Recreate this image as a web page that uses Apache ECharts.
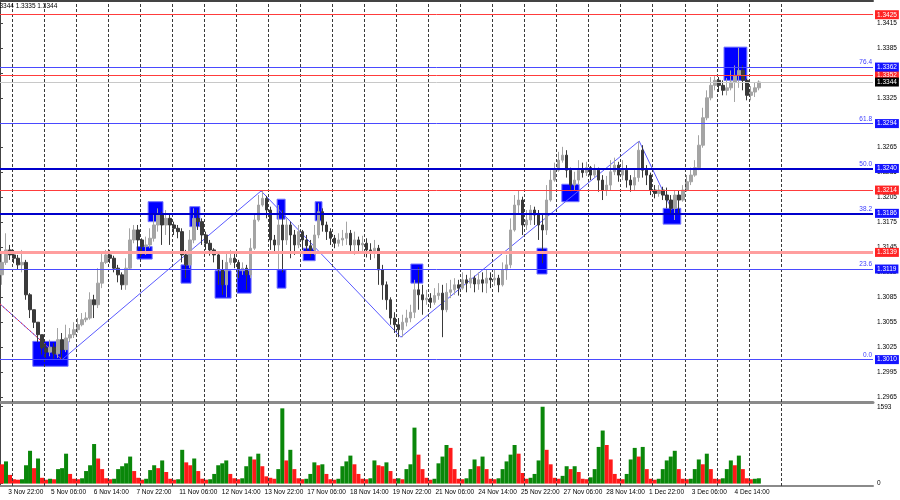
<!DOCTYPE html>
<html><head><meta charset="utf-8">
<script src="https://cdn.jsdelivr.net/npm/echarts@6/dist/echarts.min.js"></script>
<style>html,body{margin:0;padding:0;background:#fff}#c{width:900px;height:500px}</style>
</head><body><div id="c"></div>
<script>
// ---------------- data ----------------
const barCount = 218; // 3-hour slots on the time axis (incl. empty right margin)
// [open, close, low, high]
const ohlc = [
[1.3112,1.3127,1.3100,1.3140],[1.3127,1.3142,1.3124,1.3162],[1.3142,1.3136,1.3130,1.3148],[1.3136,1.3132,1.3126,1.3142],[1.3132,1.3124,1.3118,1.3136],
[1.3124,1.3127,1.3115,1.3142],[1.3127,1.3088,1.3082,1.3130],[1.3088,1.3070,1.3060,1.3090],[1.3070,1.3055,1.3048,1.3070],[1.3055,1.3040,1.3031,1.3055],
[1.3040,1.3024,1.3016,1.3040],[1.3024,1.3019,1.3012,1.3030],[1.3019,1.3025,1.3014,1.3034],[1.3025,1.3017,1.3011,1.3030],[1.3017,1.3034,1.3012,1.3048],
[1.3034,1.3022,1.3010,1.3042],[1.3022,1.3036,1.3019,1.3052],[1.3036,1.3040,1.3031,1.3048],[1.3040,1.3046,1.3036,1.3055],[1.3046,1.3052,1.3042,1.3060],
[1.3052,1.3058,1.3050,1.3066],[1.3058,1.3060,1.3055,1.3067],[1.3060,1.3082,1.3058,1.3091],[1.3082,1.3076,1.3060,1.3088],[1.3076,1.3102,1.3072,1.3120],
[1.3102,1.3127,1.3096,1.3140],[1.3127,1.3136,1.3125,1.3142],[1.3136,1.3132,1.3126,1.3142],[1.3132,1.3120,1.3115,1.3135],[1.3120,1.3112,1.3103,1.3124],
[1.3112,1.3100,1.3094,1.3115],[1.3100,1.3120,1.3094,1.3132],[1.3120,1.3154,1.3118,1.3168],[1.3154,1.3166,1.3150,1.3172],[1.3166,1.3154,1.3142,1.3172],
[1.3154,1.3146,1.3136,1.3156],[1.3146,1.3148,1.3136,1.3158],[1.3148,1.3156,1.3144,1.3168],[1.3156,1.3172,1.3152,1.3184],[1.3172,1.3184,1.3164,1.3192],
[1.3184,1.3172,1.3148,1.3188],[1.3172,1.3180,1.3160,1.3190],[1.3180,1.3172,1.3148,1.3184],[1.3172,1.3168,1.3160,1.3176],[1.3168,1.3164,1.3156,1.3172],
[1.3164,1.3136,1.3127,1.3168],[1.3136,1.3124,1.3108,1.3142],[1.3124,1.3154,1.3120,1.3166],[1.3154,1.3180,1.3150,1.3192],[1.3180,1.3176,1.3166,1.3190],
[1.3176,1.3160,1.3148,1.3180],[1.3160,1.3150,1.3142,1.3164],[1.3150,1.3142,1.3135,1.3154],[1.3142,1.3136,1.3127,1.3144],[1.3136,1.3118,1.3100,1.3140],
[1.3118,1.3100,1.3088,1.3130],[1.3100,1.3127,1.3085,1.3138],[1.3127,1.3132,1.3124,1.3142],[1.3132,1.3127,1.3120,1.3140],[1.3127,1.3118,1.3108,1.3130],
[1.3118,1.3120,1.3112,1.3127],[1.3120,1.3112,1.3094,1.3124],[1.3112,1.3144,1.3108,1.3156],[1.3144,1.3178,1.3142,1.3184],[1.3178,1.3196,1.3176,1.3208],
[1.3196,1.3204,1.3194,1.3213],[1.3204,1.3190,1.3180,1.3207],[1.3190,1.3154,1.3142,1.3194],[1.3154,1.3148,1.3138,1.3160],[1.3148,1.3172,1.3118,1.3196],
[1.3172,1.3154,1.3115,1.3190],[1.3154,1.3172,1.3148,1.3180],[1.3172,1.3160,1.3132,1.3176],[1.3160,1.3148,1.3136,1.3166],[1.3148,1.3164,1.3144,1.3172],
[1.3164,1.3154,1.3142,1.3166],[1.3154,1.3147,1.3138,1.3160],[1.3147,1.3142,1.3133,1.3154],[1.3142,1.3160,1.3136,1.3172],[1.3160,1.3188,1.3156,1.3198],
[1.3188,1.3172,1.3164,1.3192],[1.3172,1.3164,1.3154,1.3176],[1.3164,1.3156,1.3148,1.3168],[1.3156,1.3150,1.3144,1.3160],[1.3150,1.3154,1.3146,1.3162],
[1.3154,1.3156,1.3147,1.3166],[1.3156,1.3162,1.3148,1.3176],[1.3162,1.3148,1.3140,1.3166],[1.3148,1.3154,1.3136,1.3164],[1.3154,1.3148,1.3138,1.3158],
[1.3148,1.3150,1.3140,1.3159],[1.3150,1.3142,1.3133,1.3156],[1.3142,1.3138,1.3130,1.3150],[1.3138,1.3144,1.3132,1.3154],[1.3144,1.3118,1.3100,1.3148],
[1.3118,1.3100,1.3082,1.3124],[1.3100,1.3082,1.3070,1.3104],[1.3082,1.3060,1.3052,1.3085],[1.3060,1.3052,1.3042,1.3067],[1.3052,1.3046,1.3037,1.3060],
[1.3046,1.3055,1.3037,1.3064],[1.3055,1.3060,1.3050,1.3070],[1.3060,1.3067,1.3055,1.3076],[1.3067,1.3094,1.3060,1.3106],[1.3094,1.3088,1.3070,1.3121],
[1.3088,1.3082,1.3064,1.3100],[1.3082,1.3084,1.3076,1.3094],[1.3084,1.3079,1.3072,1.3090],[1.3079,1.3087,1.3076,1.3096],[1.3087,1.3090,1.3082,1.3102],
[1.3090,1.3070,1.3037,1.3100],[1.3070,1.3091,1.3067,1.3102],[1.3091,1.3094,1.3084,1.3106],[1.3094,1.3100,1.3088,1.3108],[1.3100,1.3096,1.3087,1.3106],
[1.3096,1.3106,1.3094,1.3115],[1.3106,1.3102,1.3091,1.3112],[1.3102,1.3108,1.3096,1.3118],[1.3108,1.3101,1.3091,1.3111],[1.3101,1.3106,1.3094,1.3115],
[1.3106,1.3102,1.3091,1.3115],[1.3102,1.3108,1.3090,1.3118],[1.3108,1.3106,1.3096,1.3115],[1.3106,1.3108,1.3099,1.3118],[1.3108,1.3100,1.3091,1.3112],
[1.3100,1.3118,1.3098,1.3127],[1.3118,1.3124,1.3106,1.3136],[1.3124,1.3166,1.3120,1.3180],[1.3166,1.3196,1.3164,1.3208],[1.3196,1.3202,1.3186,1.3214],
[1.3202,1.3172,1.3160,1.3206],[1.3172,1.3178,1.3166,1.3190],[1.3178,1.3190,1.3172,1.3196],[1.3190,1.3184,1.3172,1.3194],[1.3184,1.3172,1.3154,1.3190],
[1.3172,1.3166,1.3126,1.3184],[1.3166,1.3202,1.3160,1.3220],[1.3202,1.3226,1.3200,1.3238],[1.3226,1.3238,1.3224,1.3247],[1.3238,1.3250,1.3236,1.3260],
[1.3250,1.3256,1.3247,1.3266],[1.3256,1.3238,1.3229,1.3262],[1.3238,1.3220,1.3212,1.3241],[1.3220,1.3226,1.3214,1.3236],[1.3226,1.3238,1.3220,1.3250],
[1.3238,1.3235,1.3229,1.3247],[1.3235,1.3241,1.3231,1.3248],[1.3241,1.3232,1.3226,1.3243],[1.3232,1.3238,1.3229,1.3245],[1.3238,1.3226,1.3212,1.3241],
[1.3226,1.3214,1.3202,1.3232],[1.3214,1.3220,1.3207,1.3231],[1.3220,1.3236,1.3214,1.3250],[1.3236,1.3244,1.3232,1.3253],[1.3244,1.3232,1.3224,1.3248],
[1.3232,1.3238,1.3226,1.3250],[1.3238,1.3226,1.3217,1.3244],[1.3226,1.3220,1.3212,1.3232],[1.3220,1.3229,1.3214,1.3238],[1.3229,1.3262,1.3224,1.3273],
[1.3262,1.3238,1.3229,1.3268],[1.3238,1.3232,1.3220,1.3244],[1.3232,1.3214,1.3208,1.3235],[1.3214,1.3210,1.3204,1.3220],[1.3210,1.3214,1.3206,1.3220],
[1.3214,1.3208,1.3202,1.3218],[1.3208,1.3202,1.3192,1.3217],[1.3202,1.3192,1.3184,1.3208],[1.3192,1.3208,1.3178,1.3214],[1.3208,1.3202,1.3184,1.3214],
[1.3202,1.3214,1.3200,1.3220],[1.3214,1.3224,1.3212,1.3232],[1.3224,1.3232,1.3220,1.3241],[1.3232,1.3241,1.3230,1.3250],[1.3241,1.3268,1.3238,1.3280],
[1.3268,1.3301,1.3265,1.3313],[1.3301,1.3325,1.3298,1.3334],[1.3325,1.3340,1.3322,1.3350],[1.3340,1.3346,1.3334,1.3351],[1.3346,1.3340,1.3332,1.3350],
[1.3340,1.3334,1.3328,1.3346],[1.3334,1.3337,1.3328,1.3349],[1.3337,1.3344,1.3334,1.3358],[1.3344,1.3352,1.3320,1.3364],[1.3352,1.3358,1.3337,1.3385],
[1.3358,1.3346,1.3334,1.3364],[1.3346,1.3328,1.3322,1.3348],[1.3328,1.3332,1.3322,1.3339],[1.3332,1.3337,1.3326,1.3343],[1.3337,1.3344,1.3334,1.3346]
];
const volumes = [
400,460,180,90,80,90,380,680,320,520,
120,80,100,90,300,320,620,200,100,90,
110,260,380,820,520,300,110,90,100,300,
360,420,560,260,120,80,100,280,380,320,
480,240,100,80,90,700,440,380,520,260,
100,80,90,200,380,420,480,200,110,90,
110,360,560,500,620,360,150,120,100,300,
1560,480,700,300,110,90,100,200,440,380,
400,200,90,80,100,360,460,580,400,200,
100,90,110,480,380,360,440,260,100,110,
90,300,400,1160,600,300,120,80,100,420,
560,800,740,300,100,90,110,300,500,360,
560,300,100,90,110,300,460,600,800,620,
220,100,120,200,480,1593,700,400,120,100,
160,360,300,360,240,100,90,130,300,760,
1100,800,500,200,100,90,200,500,740,560,
760,300,100,80,100,300,480,560,680,300,
100,90,100,300,500,400,620,300,100,90,
110,300,480,380,580,300,110,90,100,110
];
const dateLabels = ['3 Nov 22:00','5 Nov 06:00','6 Nov 14:00','7 Nov 22:00','11 Nov 06:00','12 Nov 14:00','13 Nov 22:00','17 Nov 06:00','18 Nov 14:00','19 Nov 22:00','21 Nov 06:00','24 Nov 14:00','25 Nov 22:00','27 Nov 06:00','28 Nov 14:00','1 Dec 22:00','3 Dec 06:00','4 Dec 14:00'];
const firstLabelBar = 2.07;      // bar slot where the first date label starts
const labelStepBars = 32 / 3;    // 32 hours between labels, 3 hours per slot
const gridStartBar = 3, gridStepBars = 8, gridCount = 25; // one dotted line per day
const priceTicks = [1.2965,1.2995,1.3025,1.3055,1.3085,1.3115,1.3145,1.3175,1.3205,1.3235,1.3265,1.3295,1.3325,1.3355,1.3385,1.3415];
const volumeTicks = [0, 1593];
const resistanceLevels = [1.3425, 1.3352, 1.3214];
const weakLevel = 1.3139;
const fibPrices = [1.3010, 1.3119, 1.3186, 1.3240, 1.3294, 1.3362];
const fibRatios = ['0.0', '23.6', '38.2', '50.0', '61.8', '76.4'];
const lastPrice = 1.3344;
const zigzagBars = [0, 15.5, 65.2, 100.1, 159.6, 167.8];
const zigzagPrices = [1.3077, 1.3010, 1.3213, 1.3037, 1.3273, 1.3190];
// [startBar, endBar, lowPrice, highPrice]
const boxes = [
[8.2,17.0,1.3002,1.3032],[37.0,40.7,1.3176,1.3200],[34.2,38.0,1.3131,1.3146],[47.4,49.9,1.3170,1.3194],
[45.2,47.7,1.3102,1.3124],[53.7,57.7,1.3084,1.3117],[59.2,62.7,1.3090,1.3117],[69.2,71.2,1.3179,1.3203],
[69.2,71.4,1.3096,1.3118],[75.7,78.7,1.3129,1.3144],[78.7,80.4,1.3177,1.3200],[102.6,105.6,1.3102,1.3125],
[134.1,136.6,1.3113,1.3144],[140.3,144.6,1.3200,1.3221],[165.6,170.0,1.3173,1.3192],[180.8,186.5,1.3346,1.3386]
];
const headerText = '1.3344 1.3335 1.3344';

// ---------------- build ----------------
const N = barCount;
const cats = Array.from({length: N}, (_, i) => String(i));
const gridBars = Array.from({length: gridCount}, (_, k) => gridStartBar + k * gridStepBars);
const labelBars = dateLabels.map((_, k) => firstLabelBar + k * labelStepBars);
const font = '"Liberation Sans", Arial, sans-serif';
const FS = 6.5;
const boxBlue = '#1414ff', boxRed = '#ff2424';

function priceBox(v, bg) {
  return {show: true, position: 'end', distance: 2, formatter: v.toFixed(4), color: '#fff',
    backgroundColor: bg, padding: [1, 2, 1, 2], fontSize: FS, lineHeight: 7, fontFamily: font};
}
const gridStyle = {color: '#3a3a3a', width: 1, type: [3, 2]};
const mainLines = [];
gridBars.forEach(b => mainLines.push({xAxis: b, lineStyle: gridStyle, label: {show: false}}));
mainLines.push({yAxis: weakLevel, lineStyle: {color: '#ff9e9e', width: 3, type: 'solid'}, label: priceBox(weakLevel, boxRed)});
resistanceLevels.forEach(v => mainLines.push({yAxis: v, lineStyle: {color: '#ff3c3c', width: 1, type: 'solid'}, label: priceBox(v, boxRed)}));
fibPrices.forEach((v, k) => {
  const thick = fibRatios[k] === '50.0' || fibRatios[k] === '38.2';
  mainLines.push({yAxis: v, lineStyle: {color: thick ? '#0000cc' : '#4a4aff', width: thick ? 2 : 1, type: 'solid'}, label: priceBox(v, boxBlue)});
  mainLines.push({yAxis: v, lineStyle: {color: 'rgba(0,0,0,0)', width: 1, type: 'solid'},
    label: {show: true, position: 'insideEndTop', distance: 1, formatter: fibRatios[k], color: '#3c3cff', fontSize: FS, fontFamily: font}});
});
mainLines.push({yAxis: lastPrice, lineStyle: {color: '#c8c8c8', width: 1, type: 'solid'}, label: priceBox(lastPrice, '#000')});

const volLines = gridBars.map(b => ({xAxis: b, lineStyle: gridStyle, label: {show: false}}));

const volData = volumes.map((v, i) => ({value: v, itemStyle: {color: (i > 0 && v > volumes[i - 1]) ? '#0a870a' : '#ff1a1a'}}));

const chart = echarts.init(document.getElementById('c'), null, {renderer: 'canvas'});
chart.setOption({
  animation: false,
  backgroundColor: '#fff',
  textStyle: {fontFamily: font},
  graphic: [{type: 'text', x: -6, y: 3, z: 100,
    style: {text: headerText, fontSize: FS, fontFamily: font, fill: '#000'}}],
  grid: [
    {left: 0, right: 27, top: 1, height: 401, containLabel: false, outerBoundsMode: 'none'},
    {left: 0, right: 27, top: 404, height: 82, containLabel: false, outerBoundsMode: 'none'}
  ],
  xAxis: [
    {gridIndex: 0, type: 'category', data: cats, position: 'bottom',
      axisLine: {show: true, lineStyle: {color: '#8a8a8a', width: 3}}, axisTick: {show: false}, axisLabel: {show: false}, splitLine: {show: false}},
    {gridIndex: 0, type: 'value', min: 0, max: N, position: 'top',
      axisLine: {show: true, lineStyle: {color: '#444', width: 2}}, axisTick: {show: false}, axisLabel: {show: false}, splitLine: {show: false}},
    {gridIndex: 1, type: 'category', data: cats, show: false},
    {gridIndex: 1, type: 'value', min: 0, max: N, position: 'bottom',
      axisLine: {show: true, lineStyle: {color: '#8a8a8a', width: 2}}, axisTick: {show: false}, splitLine: {show: false},
      axisLabel: {customValues: labelBars, align: 'left', margin: 3, fontSize: FS, color: '#000', fontFamily: font,
        formatter: v => dateLabels[Math.round((v - firstLabelBar) / labelStepBars)] || ''}}
  ],
  yAxis: [
    {gridIndex: 0, type: 'value', position: 'right', min: 1.2959, max: 1.34415, scale: true,
      axisLine: {show: true, lineStyle: {color: '#444', width: 1}},
      axisTick: {show: true, length: 3, customValues: priceTicks, lineStyle: {color: '#444'}},
      axisLabel: {customValues: priceTicks, formatter: v => v.toFixed(4), fontSize: FS, color: '#000', margin: 4, fontFamily: font},
      splitLine: {show: false}},
    {gridIndex: 1, type: 'value', position: 'right', min: -50, max: 1650,
      axisLine: {show: true, lineStyle: {color: '#444', width: 1}},
      axisTick: {show: true, length: 3, customValues: volumeTicks, lineStyle: {color: '#444'}},
      axisLabel: {customValues: volumeTicks, formatter: v => String(v), fontSize: FS, color: '#000', margin: 4, fontFamily: font},
      splitLine: {show: false}}
  ],
  series: [
    {type: 'line', xAxisIndex: 1, yAxisIndex: 0, data: [], z: 1, silent: true,
      markLine: {symbol: ['none', 'none'], precision: 4, silent: true, animation: false, data: mainLines}},
    {type: 'line', xAxisIndex: 1, yAxisIndex: 0, data: [], z: 2, silent: true,
      markArea: {silent: true, animation: false, itemStyle: {color: '#0000ff', borderColor: '#7272ff', borderWidth: 1},
        data: boxes.map(b => [{xAxis: b[0], yAxis: b[3]}, {xAxis: b[1], yAxis: b[2]}])}},
    {type: 'line', xAxisIndex: 1, yAxisIndex: 0, z: 3, silent: true, symbol: 'none',
      data: zigzagBars.map((b, i) => [b, zigzagPrices[i]]), lineStyle: {color: '#5a5aff', width: 1}},
    {type: 'line', xAxisIndex: 1, yAxisIndex: 0, z: 3, silent: true, symbol: 'none',
      data: zigzagBars.slice(0, 2).map((b, i) => [b, zigzagPrices[i]]), lineStyle: {color: '#ff3030', width: 1, type: [2, 2]}},
    {type: 'candlestick', xAxisIndex: 0, yAxisIndex: 0, z: 4, silent: true, data: ohlc, barWidth: 3,
      itemStyle: {color: '#a4a4a4', color0: '#3a3a3a', borderColor: '#a4a4a4', borderColor0: '#3a3a3a', borderWidth: 1}},
    {type: 'line', xAxisIndex: 3, yAxisIndex: 1, data: [], z: 1, silent: true,
      markLine: {symbol: ['none', 'none'], precision: 4, silent: true, animation: false, data: volLines}},
    {type: 'bar', xAxisIndex: 2, yAxisIndex: 1, z: 3, silent: true, data: volData, barCategoryGap: '0%'}
  ]
});
</script>
</body></html>
